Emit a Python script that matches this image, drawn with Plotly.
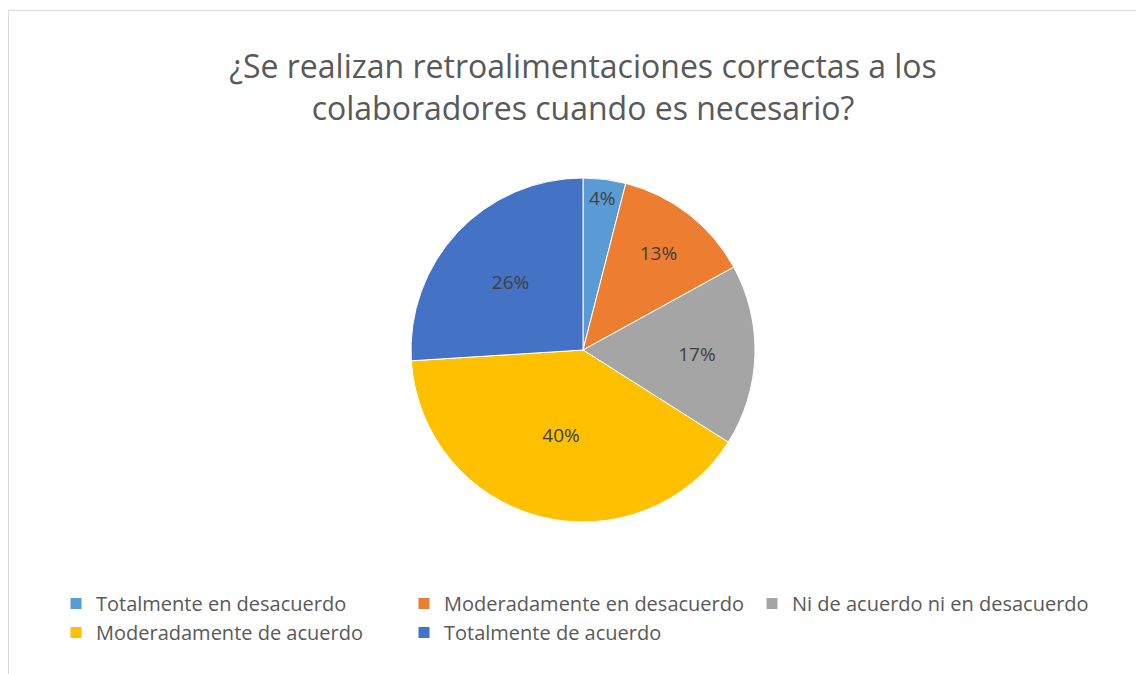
import plotly.graph_objects as go

categories = ["Totalmente en desacuerdo", "Moderadamente en desacuerdo",
              "Ni de acuerdo ni en desacuerdo", "Moderadamente de acuerdo",
              "Totalmente de acuerdo"]
values = [4, 13, 17, 40, 26]
colors = ["#5B9BD5", "#ED7D31", "#A5A5A5", "#FFC000", "#4472C4"]

W, H = 1144, 674
OFF = 8  # page body margin
cx, cy, r = 583 - OFF, 350 - OFF, 172

fig = go.Figure(go.Pie(
    labels=categories, values=values, sort=False, direction="clockwise",
    marker=dict(colors=colors, line=dict(color="white", width=1)),
    textinfo="percent", textposition="inside", insidetextorientation="horizontal",
    textfont=dict(size=19, color="#404040", family="Open Sans"),
    domain=dict(x=[(cx - r) / W, (cx + r) / W], y=[1 - (cy + r) / H, 1 - (cy - r) / H]),
))

fig.update_layout(
    width=W, height=H, margin=dict(l=0, r=0, t=0, b=0),
    paper_bgcolor="white",
    font=dict(family="Open Sans", color="#595959"),
    title=dict(text="¿Se realizan retroalimentaciones correctas a los<br>colaboradores cuando es necesario?",
               x=(583 - OFF) / W, xanchor="center", y=1 - (78 - OFF) / H, yanchor="middle",
               font=dict(size=32, color="#595959", family="Open Sans")),
    legend=dict(orientation="h", x=(56 - OFF) / W, xanchor="left", y=1 - (584 - OFF) / H, yanchor="top",
                entrywidth=303, entrywidthmode="pixels",
                font=dict(size=20, color="#595959", family="Open Sans")),
    shapes=[dict(type="rect", xref="paper", yref="paper", x0=0.5 / W, x1=1.02, y0=-0.05, y1=1 - 2.5 / H,
                 line=dict(color="#D9D9D9", width=1))],
)
fig.write_html("out.html")
